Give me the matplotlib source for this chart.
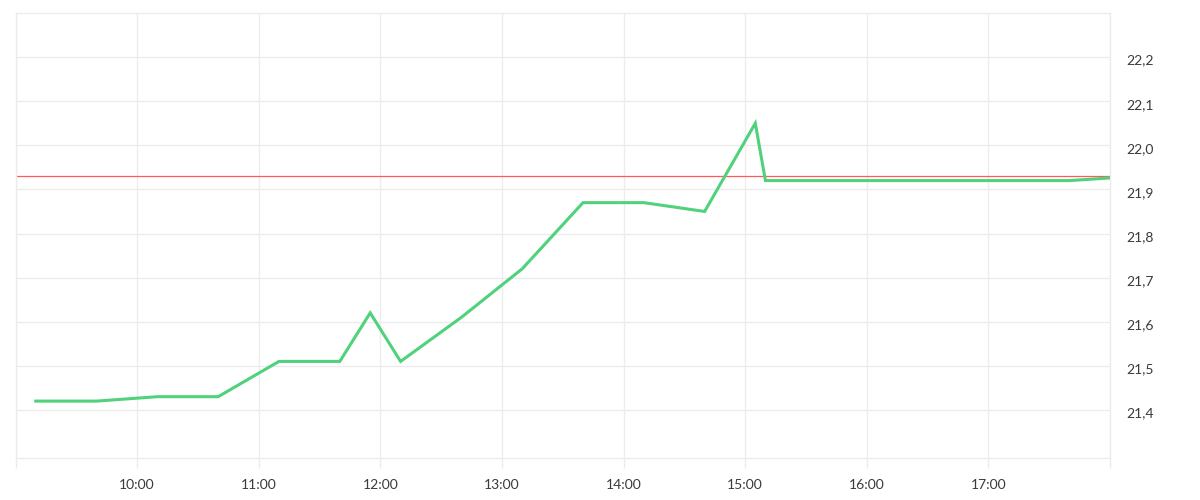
import matplotlib
matplotlib.use("Agg")
import matplotlib.pyplot as plt
import matplotlib.dates as mdates
import matplotlib.transforms as mtransforms
import datetime

# intraday price series
times = ["09:10", "09:40", "10:10", "10:40", "11:10", "11:40", "11:55",
         "12:10", "12:40", "13:10", "13:40", "14:10", "14:40", "15:05",
         "15:10", "15:40", "16:10", "16:40", "17:10", "17:40", "18:00"]
prices = [21.42, 21.42, 21.43, 21.43, 21.51, 21.51, 21.62,
          21.51, 21.61, 21.72, 21.87, 21.87, 21.85, 22.05,
          21.92, 21.92, 21.92, 21.92, 21.92, 21.92, 21.926]
prevClose = 21.93

yTicks = [21.4, 21.5, 21.6, 21.7, 21.8, 21.9, 22.0, 22.1, 22.2]
hourTicks = [9, 10, 11, 12, 13, 14, 15, 16, 17, 18]


def toDT(s):
    h, m = [int(i) for i in s.split(":")]
    return datetime.datetime(2024, 1, 2, h, m)


x = [toDT(t) for t in times]

plt.rcParams["font.family"] = ["Lato", "DejaVu Sans"]

gridColor = "#ececec"

fig = plt.figure(figsize=(12, 5), dpi=100)
ax = fig.add_axes([15.5 / 1200, 1 - 458 / 500, (1110 - 15.5) / 1200, (458 - 13) / 500])

ax.plot(x, prices, color="#4fd27b", linewidth=2.2, solid_joinstyle="miter", zorder=3)
ax.axhline(prevClose, color="#ff5a5a", linewidth=0.9, zorder=2)

ax.set_xlim(datetime.datetime(2024, 1, 2, 9, 0), datetime.datetime(2024, 1, 2, 18, 0))
ax.set_ylim(21.291, 22.3)

xt = [datetime.datetime(2024, 1, 2, h, 0) for h in hourTicks]
ax.set_xticks(xt)
ax.set_xticklabels(["" if h in (9, 18) else "%d:00" % h for h in hourTicks])

ax.yaxis.tick_right()
ax.set_yticks(yTicks)
ax.set_yticklabels([("%.1f" % v).replace(".", ",") for v in yTicks])

ax.grid(True, color=gridColor, linewidth=1, zorder=0)
for s in ax.spines.values():
    s.set_color(gridColor)
    s.set_linewidth(1)

ax.tick_params(axis="x", length=7, width=1, color=gridColor, pad=8,
               labelsize=10, labelcolor="#3a3a3a")
ax.tick_params(axis="y", length=0, pad=12, labelsize=10, labelcolor="#3a3a3a")

# labels in the reference sit a couple of pixels under their grid line
shift = mtransforms.ScaledTranslation(0, -2.5 / 100, fig.dpi_scale_trans)
for lab in ax.get_yticklabels():
    lab.set_transform(lab.get_transform() + shift)

fig.savefig("out.png", dpi=100, facecolor="white")
